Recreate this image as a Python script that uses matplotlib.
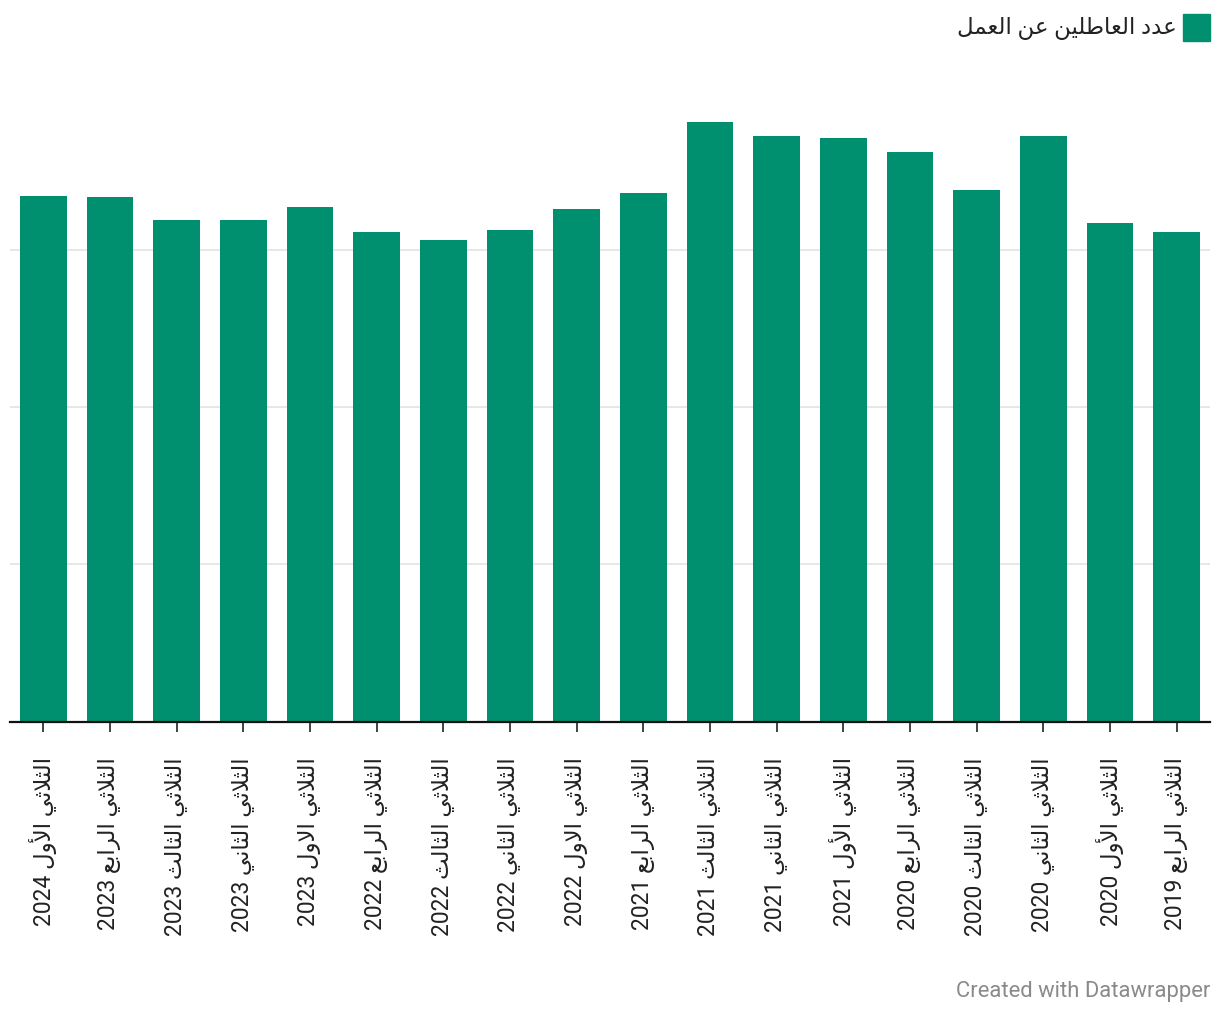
import matplotlib
matplotlib.use("Agg")
import matplotlib.pyplot as plt
from matplotlib.patches import Rectangle

# ---------------- data (thousands of unemployed) ----------------
categories = [
    "الثلاثي الأول 2024", "الثلاثي الرابع 2023", "الثلاثي الثالث 2023",
    "الثلاثي الثاني 2023", "الثلاثي الاول 2023", "الثلاثي الرابع 2022",
    "الثلاثي الثالث 2022", "الثلاثي الثاني 2022", "الثلاثي الاول 2022",
    "الثلاثي الرابع 2021", "الثلاثي الثالث 2021", "الثلاثي الثاني 2021",
    "الثلاثي الأول 2021", "الثلاثي الرابع 2020", "الثلاثي الثالث 2020",
    "الثلاثي الثاني 2020", "الثلاثي الأول 2020", "الثلاثي الرابع 2019",
]
values = [668, 667, 637, 637, 654, 623, 612, 625, 651, 672,
          762, 745, 742, 724, 676, 745, 634, 622]
series_name = "عدد العاطلين عن العمل"
grid_values = [200, 400, 600]
credit = "Created with Datawrapper"

# ---------------- minimal Arabic shaping (matplotlib has no CTL) ----------------
# forms: (isolated, final, initial, medial); None for non-dual-joining
FORMS = {
    "\u0627": ("\uFE8D", "\uFE8E", None, None),
    "\u0623": ("\uFE83", "\uFE84", None, None),
    "\u0628": ("\uFE8F", "\uFE90", "\uFE91", "\uFE92"),
    "\u062B": ("\uFE99", "\uFE9A", "\uFE9B", "\uFE9C"),
    "\u062F": ("\uFEA9", "\uFEAA", None, None),
    "\u0631": ("\uFEAD", "\uFEAE", None, None),
    "\u0637": ("\uFEC1", "\uFEC2", "\uFEC3", "\uFEC4"),
    "\u0639": ("\uFEC9", "\uFECA", "\uFECB", "\uFECC"),
    "\u0644": ("\uFEDD", "\uFEDE", "\uFEDF", "\uFEE0"),
    "\u0645": ("\uFEE1", "\uFEE2", "\uFEE3", "\uFEE4"),
    "\u0646": ("\uFEE5", "\uFEE6", "\uFEE7", "\uFEE8"),
    "\u0648": ("\uFEED", "\uFEEE", None, None),
    "\u064A": ("\uFEF1", "\uFEF2", "\uFEF3", "\uFEF4"),
}
LAM_ALEF = {"\u0627": ("\uFEFB", "\uFEFC"), "\u0623": ("\uFEF7", "\uFEF8")}


def dual(c):
    return c in FORMS and FORMS[c][2] is not None


def shape_word(w):
    units = []
    i = 0
    while i < len(w):
        c = w[i]
        if c == "\u0644" and i + 1 < len(w) and w[i + 1] in LAM_ALEF:
            units.append(("LA", w[i + 1]))
            i += 2
        else:
            units.append(("C", c))
            i += 1
    out = []
    for k, (kind, c) in enumerate(units):
        prev_joins = k > 0 and units[k - 1][0] == "C" and dual(units[k - 1][1])
        if kind == "LA":
            iso, fin = LAM_ALEF[c]
            out.append(fin if prev_joins else iso)
            continue
        if c not in FORMS:
            out.append(c)
            continue
        next_ok = k + 1 < len(units) and (units[k + 1][0] == "LA" or units[k + 1][1] in FORMS)
        iso, fin, ini, med = FORMS[c]
        joins_next = dual(c) and next_ok
        if prev_joins and joins_next:
            out.append(med)
        elif prev_joins:
            out.append(fin)
        elif joins_next:
            out.append(ini)
        else:
            out.append(iso)
    return "".join(out)


def visual(text):
    toks = text.split(" ")
    res = []
    for t in reversed(toks):
        if any(ch in FORMS for ch in t):
            res.append(shape_word(t)[::-1])
        else:
            res.append(t)
    return " ".join(res)


FAM = ["Roboto", "DejaVu Sans"]
plt.rcParams["font.family"] = FAM

W, H = 1220, 1016
fig = plt.figure(figsize=(W / 100, H / 100), dpi=100)

left_px, right_px = 10, 1210
base_px, top_px = 721.5, 100
ax = fig.add_axes([left_px / W, 1 - base_px / H, (right_px - left_px) / W, (base_px - top_px) / H])

green = "#00906f"
x = list(range(len(values)))
ax.bar(x, values, width=0.7, color=green, zorder=2)
ax.set_xlim(-0.5, len(values) - 0.5)
ax.set_ylim(0, (base_px - top_px) / (157.3 / 200))

for g in grid_values:
    ax.axhline(g, color="#e3e3e3", lw=1.2, zorder=1)
ax.axhline(0, color="#111111", lw=1.6, zorder=3, clip_on=False)

for s in ax.spines.values():
    s.set_visible(False)
ax.set_yticks([])
ax.set_xticks(x)
ax.set_xticklabels([visual(c) for c in categories], rotation=90, fontsize=16.5,
                   color="#222222", family=FAM)
ax.tick_params(axis="x", length=7.5, width=1.2, color="#222222", pad=18)

# legend
fig.patches.append(Rectangle((1183 / W, 1 - 41 / H), 27 / W, 27 / H,
                             transform=fig.transFigure, color=green))
fig.text(1177 / W, 1 - 28 / H, visual(series_name), ha="right", va="center",
         fontsize=16.5, color="#222222", family=FAM)

# credit
fig.text(1210 / W, 1 - 991 / H, credit, ha="right", va="center",
         fontsize=15.8, color="#8a8a8a", family="Roboto")

fig.savefig("out.png", dpi=100, facecolor="white")
